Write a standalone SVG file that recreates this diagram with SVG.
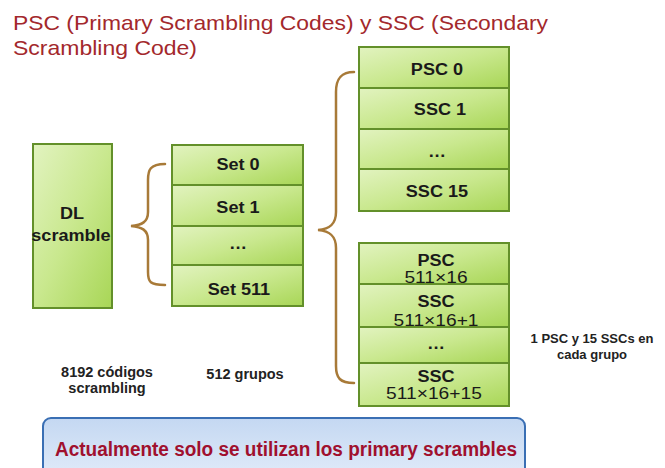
<svg xmlns="http://www.w3.org/2000/svg" width="665" height="468" viewBox="0 0 665 468">
  <defs>
    <linearGradient id="green" x1="0" y1="0" x2="1" y2="1">
      <stop offset="0" stop-color="#e2f3c0"/>
      <stop offset="0.5" stop-color="#c9e88e"/>
      <stop offset="1" stop-color="#a8d656"/>
    </linearGradient>
    <linearGradient id="blue" x1="0" y1="0" x2="0" y2="1">
      <stop offset="0" stop-color="#c4d8f2"/>
      <stop offset="1" stop-color="#e6eefa"/>
    </linearGradient>
    <style>
      .cell { fill: url(#green); stroke: #63902a; stroke-width: 2; }
      .brace { fill: none; stroke: #a87a38; stroke-width: 2.5; stroke-linecap: round; }
      .wide { transform-box: fill-box; transform-origin: center; transform: scaleX(1.13); }
      .lbl { font-family: "Liberation Sans", Arial, sans-serif; font-weight: bold; font-size: 16px; fill: #1a1a1a; text-anchor: middle; }
      .num { font-family: "Liberation Sans", Arial, sans-serif; font-size: 17px; fill: #1a1a1a; text-anchor: middle; }
      .note { font-family: "Liberation Sans", Arial, sans-serif; font-weight: bold; font-size: 14.5px; fill: #222; text-anchor: middle; }
      .note.small { font-size: 13px; }
      .title { font-family: "Liberation Sans", Arial, sans-serif; font-size: 21px; fill: #a3282c; }
    </style>
  </defs>

  <rect width="665" height="468" fill="#ffffff"/>

  <!-- heading -->
  <text class="title" x="13" y="30" textLength="535" lengthAdjust="spacingAndGlyphs">PSC (Primary Scrambling Codes) y SSC (Secondary</text>
  <text class="title" x="13" y="55" textLength="184" lengthAdjust="spacingAndGlyphs">Scrambling Code)</text>

  <!-- braces -->
  <g id="connectors">
    <path class="brace" d="M165,164 C150,164 148,170 148,180 L148,212 C148,222 142,225 131,226 C142,227 148,230 148,240 L148,272 C148,282 150,285 165,285"/>
    <path class="brace" d="M354,72 C340,72 336,80 336,92 L336,212 C336,224 330,229 318,230 C330,231 336,236 336,248 L336,366 C336,378 340,383 354,383"/>
  </g>

  <!-- DL scramble -->
  <g id="dl-scramble">
    <rect class="cell" x="33" y="144" width="79" height="164"/>
    <text class="lbl wide" x="72" y="219">DL</text>
    <text class="lbl wide" x="71" y="241">scramble</text>
  </g>

  <!-- sets -->
  <g id="sets">
    <rect class="cell" x="172" y="145" width="131" height="40"/>
    <text class="lbl wide" x="238" y="170">Set 0</text>
    <rect class="cell" x="172" y="185" width="131" height="41"/>
    <text class="lbl wide" x="238" y="213">Set 1</text>
    <rect class="cell" x="172" y="226" width="131" height="39"/>
    <text class="lbl wide" x="238" y="249">…</text>
    <rect class="cell" x="172" y="265" width="131" height="41"/>
    <text class="lbl wide" x="239" y="295">Set 511</text>
  </g>

  <!-- group 0 -->
  <g id="group-0">
    <rect class="cell" x="359" y="47" width="150" height="41"/>
    <text class="lbl wide" x="437" y="75">PSC 0</text>
    <rect class="cell" x="359" y="88" width="150" height="41"/>
    <text class="lbl wide" x="440" y="115">SSC 1</text>
    <rect class="cell" x="359" y="129" width="150" height="40"/>
    <text class="lbl wide" x="437" y="157">…</text>
    <rect class="cell" x="359" y="169" width="150" height="42"/>
    <text class="lbl wide" x="437" y="197">SSC 15</text>
  </g>

  <!-- group 511 -->
  <g id="group-511">
    <rect class="cell" x="359" y="243" width="150" height="41"/>
    <text class="lbl wide" x="436" y="266">PSC</text>
    <text class="num wide" x="436" y="283">511×16</text>
    <rect class="cell" x="359" y="284" width="150" height="43"/>
    <text class="lbl wide" x="436" y="307">SSC</text>
    <text class="num wide" x="436" y="326">511×16+1</text>
    <rect class="cell" x="359" y="327" width="150" height="36"/>
    <text class="lbl wide" x="436" y="349">…</text>
    <rect class="cell" x="359" y="363" width="150" height="43"/>
    <text class="lbl wide" x="436" y="382">SSC</text>
    <text class="num wide" x="434" y="399">511×16+15</text>
  </g>

  <!-- captions -->
  <g id="captions">
    <text class="note" x="107" y="377">8192 códigos</text>
    <text class="note" x="107" y="393">scrambling</text>
    <text class="note" x="245" y="379">512 grupos</text>
    <text class="note small" x="592" y="343">1 PSC y 15 SSCs en</text>
    <text class="note small" x="592" y="359">cada grupo</text>
  </g>

  <!-- note box -->
  <g id="note">
    <rect x="43" y="418" width="482" height="70" rx="8" fill="url(#blue)" stroke="#3a6fb4" stroke-width="2"/>
    <text x="55" y="456" textLength="462" lengthAdjust="spacingAndGlyphs" font-family="'Liberation Sans', Arial, sans-serif" font-weight="bold" font-size="20px" fill="#a0102e">Actualmente solo se utilizan los primary scrambles</text>
  </g>
</svg>
